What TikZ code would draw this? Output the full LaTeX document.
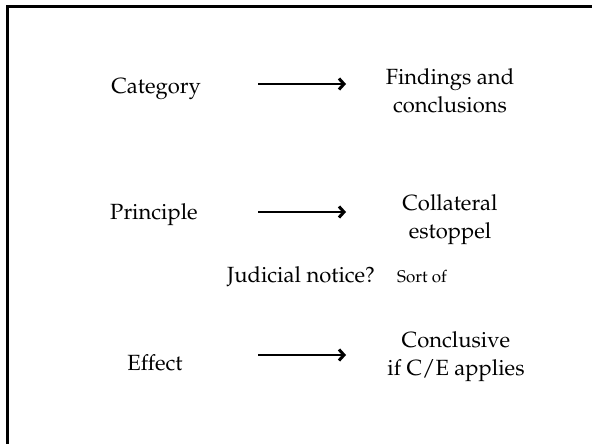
\documentclass[tikz,border=0pt]{standalone}
\usepackage[T1]{fontenc}
\renewcommand{\rmdefault}{ppl}
\usetikzlibrary{arrows.meta}
\tikzset{
  lbl/.style={font=\fontsize{22}{28}\selectfont, anchor=base, inner sep=0pt, align=center},
  small/.style={font=\fontsize{17}{20}\selectfont, anchor=base west, inner sep=0pt},
  arr/.style={line width=2.2pt, -{Straight Barb[length=5pt,width=11pt,line width=3pt]}},
  frame/.style={line width=2.4pt}
}
\begin{document}
\begin{tikzpicture}[x=1pt,y=-1pt]
\useasboundingbox (0,0) rectangle (592,444);
\draw[frame] (7.5,446) -- (7.5,6.5) -- (594,6.5);
% left column
\node[lbl] (cat) at (156,93) {Category};
\node[lbl] (pri) at (154,219) {Principle};
\node[lbl] (eff) at (155,370) {Effect};
% right column (base = last line)
\node[lbl] (fin) at (450,112) {Findings and\\conclusions};
\node[lbl] (col) at (450,238) {Collateral\\estoppel};
\node[lbl] (con) at (456,375) {Conclusive\\if C/E applies};
% middle
\node[lbl] (jud) at (301,282) {Judicial notice?};
\node[small] (sort) at (397,282) {Sort of};
% arrow endpoints
\coordinate (a1s) at (258,84); \coordinate (a1e) at (346,84);
\coordinate (a2s) at (258,212); \coordinate (a2e) at (346,212);
\coordinate (a3s) at (258,355); \coordinate (a3e) at (346,355);
\draw[arr] (a1s) -- (a1e);
\draw[arr] (a2s) -- (a2e);
\draw[arr] (a3s) -- (a3e);
\end{tikzpicture}
\end{document}
